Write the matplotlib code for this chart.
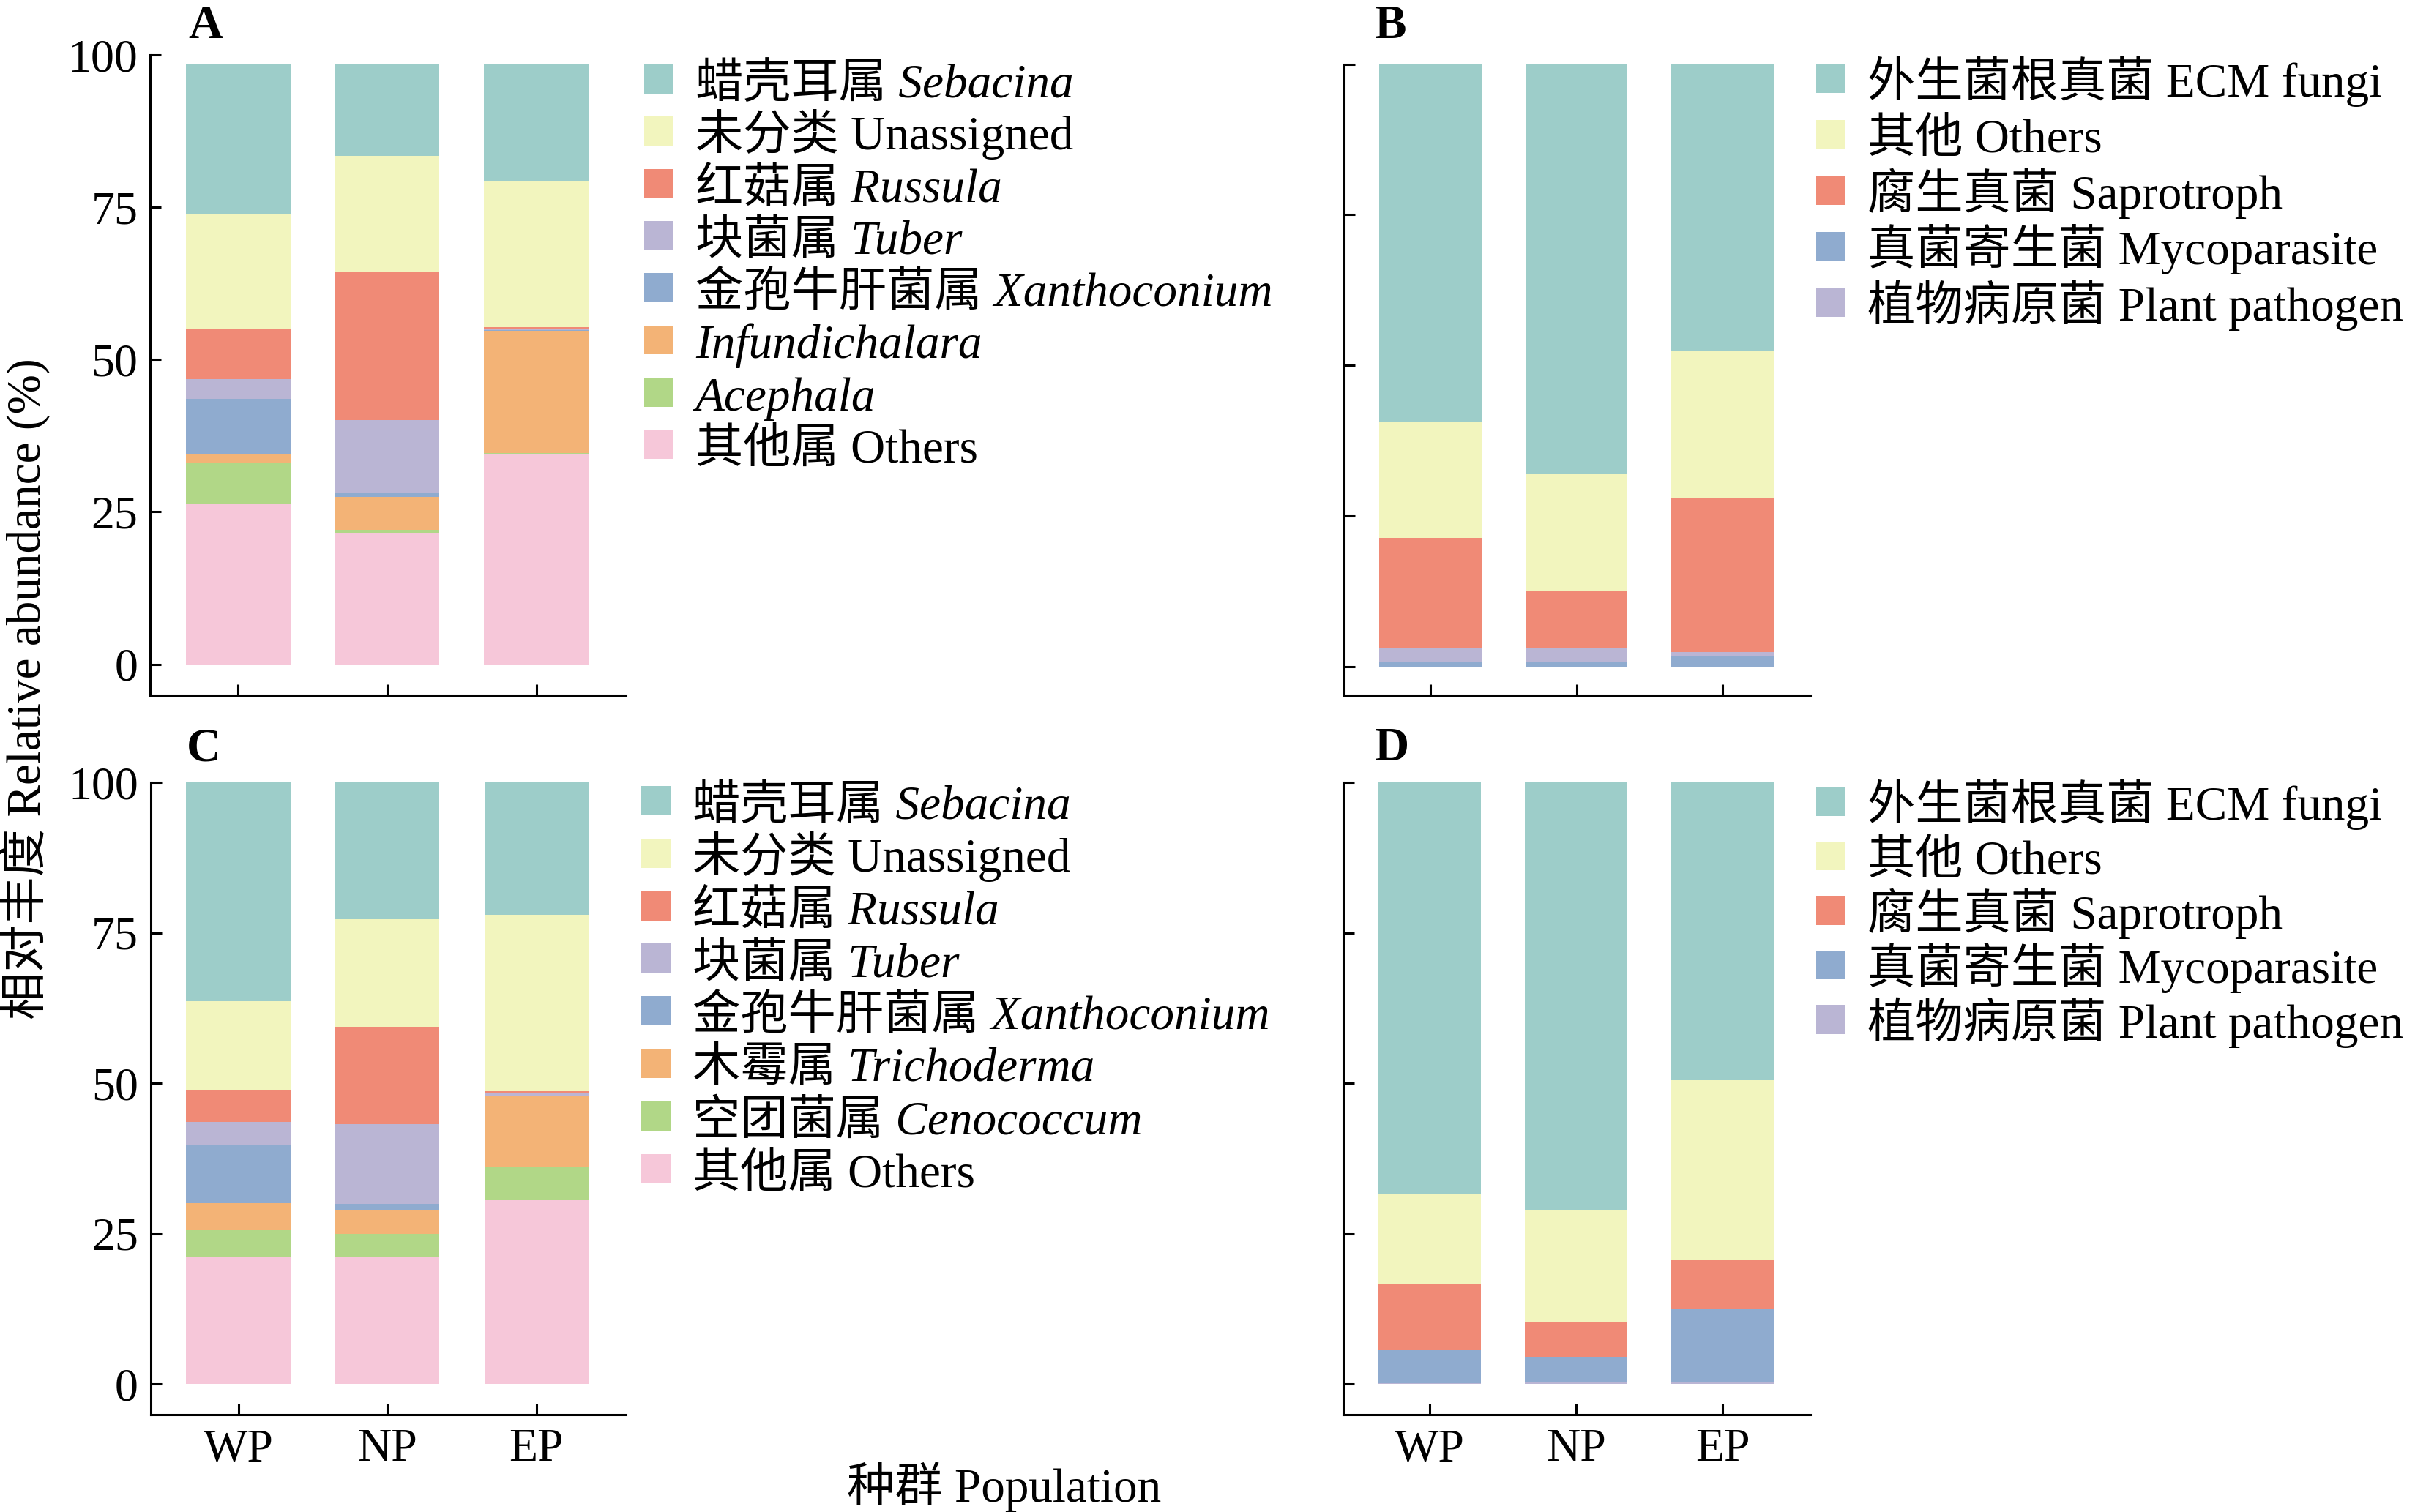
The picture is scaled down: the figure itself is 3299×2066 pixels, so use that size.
import matplotlib
matplotlib.use('Agg')
import matplotlib.pyplot as plt
from matplotlib.patches import Patch, Rectangle
from matplotlib.legend_handler import HandlerPatch
from matplotlib.font_manager import FontProperties

plt.rcParams['font.family'] = ['Liberation Serif', 'Noto Sans CJK SC']

W, H, DPI = 3299, 2066, 100

# ---------------- data ----------------
populations = ['WP', 'NP', 'EP']

# Panel A (genus level, set 1) – values in %, order WP, NP, EP
A_sebacina = [24.6, 15.1, 19.1]
A_unassigned = [19.0, 19.1, 24.1]
A_russula = [8.1, 24.2, 0.25]
A_tuber = [3.2, 12.1, 0.15]
A_xanthoconium = [9.1, 0.5, 0.12]
A_infundichalara = [1.5, 5.45, 20.1]
A_acephala = [6.75, 0.45, 0.15]
A_others = [26.25, 21.6, 34.5]
A_labels = ['蜡壳耳属 Sebacina', '未分类 Unassigned', '红菇属 Russula', '块菌属 Tuber',
            '金孢牛肝菌属 Xanthoconium', 'Infundichalara', 'Acephala', '其他属 Others']
A_italic = [True, False, True, True, True, True, True, False]

# Panel C (genus level, set 2)
C_sebacina = [36.4, 22.8, 21.9]
C_unassigned = [14.8, 17.8, 29.4]
C_russula = [5.3, 16.2, 0.36]
C_tuber = [3.8, 13.3, 0.33]
C_xanthoconium = [9.6, 1.1, 0.1]
C_trichoderma = [4.5, 3.9, 11.75]
C_cenococcum = [4.6, 3.7, 5.5]
C_others = [21.0, 21.2, 30.6]
C_labels = ['蜡壳耳属 Sebacina', '未分类 Unassigned', '红菇属 Russula', '块菌属 Tuber',
            '金孢牛肝菌属 Xanthoconium', '木霉属 Trichoderma', '空团菌属 Cenococcum', '其他属 Others']
C_italic = [True, False, True, True, True, True, True, False]

# Panel B (trophic guilds, set 1)
B_ecm = [59.4, 68.0, 47.5]
B_others = [19.2, 19.4, 24.5]
B_saprotroph = [18.45, 9.5, 25.6]
B_mycoparasite = [0.73, 0.85, 1.6]
B_pathogen = [2.2, 2.2, 0.75]

# Panel D (trophic guilds, set 2)
D_ecm = [68.3, 71.2, 49.5]
D_others = [15.0, 18.6, 29.8]
D_saprotroph = [10.9, 5.65, 8.25]
D_mycoparasite = [5.6, 4.25, 12.15]
D_pathogen = [0.15, 0.3, 0.3]

guild_labels = ['外生菌根真菌 ECM fungi', '其他 Others', '腐生真菌 Saprotroph',
                '真菌寄生菌 Mycoparasite', '植物病原菌 Plant pathogen']

yticks = [0, 25, 50, 75, 100]

# ---------------- style ----------------
TEAL, YELLOW, RED, PURPLE = '#9DCDC9', '#F2F5BE', '#F08A76', '#BAB5D4'
BLUE, ORANGE, GREEN, PINK = '#8FABCF', '#F3B376', '#B1D787', '#F6C7D9'
genus_colors = [TEAL, YELLOW, RED, PURPLE, BLUE, ORANGE, GREEN, PINK]
guild_colors = [TEAL, YELLOW, RED, BLUE, PURPLE]

FS = 47        # general text size (pt)
TICK_FS = 46
LW = 2.2

fig = plt.figure(figsize=(W / DPI, H / DPI), dpi=DPI)


def make_ax(left, top, right, bottom, ymin, xlabels):
    ax = fig.add_axes([left / W, 1 - bottom / H, (right - left) / W, (bottom - top) / H])
    ax.set_xlim(-0.59, 2.6)
    ax.set_ylim(ymin, 100)
    for s in ['top', 'right']:
        ax.spines[s].set_visible(False)
    for s in ['left', 'bottom']:
        ax.spines[s].set_linewidth(LW)
    ax.set_yticks(yticks)
    ax.set_xticks(range(len(populations)))
    ax.tick_params(direction='in', length=11, width=LW, labelsize=TICK_FS)
    ax.tick_params(axis='y', pad=12)
    ax.tick_params(axis='x', pad=14)
    if xlabels:
        ax.set_xticklabels(populations)
    else:
        ax.set_xticklabels([])
    return ax


def stack(ax, series, colors):
    bottom = [0.0] * len(populations)
    for vals, c in zip(series, colors):
        ax.bar(range(len(populations)), vals, width=0.7, bottom=bottom, color=c, linewidth=0)
        bottom = [b + v for b, v in zip(bottom, vals)]


def square(legend, orig_handle, xdescent, ydescent, width, height, fontsize):
    s = 0.61 * fontsize
    return Rectangle((-xdescent, (0.38 - 0.305) * fontsize), s, s)


HH = 1.5
f_px = FS * DPI / 72.0
row_h = (HH - 0.35 * (HH - 0.7)) * f_px  # handle box height in px
asc = (0.3 * HH + 0.49) * f_px            # handle box ascent in px


def add_legend(ax, labels, colors, italics, left_px, first_center_px, spacing_px):
    handles = [Patch(facecolor=c, edgecolor='none') for c in colors]
    ls = (spacing_px - row_h) / f_px
    top_px = first_center_px - (asc - 0.38 * f_px)
    leg = ax.legend(handles, labels, loc='upper left',
                    bbox_to_anchor=(left_px / W, 1 - top_px / H),
                    bbox_transform=fig.transFigure, frameon=False,
                    borderpad=0, borderaxespad=0, handlelength=0.61,
                    handleheight=HH, handletextpad=0.46, labelspacing=ls,
                    prop=FontProperties(family=['Liberation Serif', 'Noto Sans CJK SC'], size=FS),
                    handler_map={Patch: HandlerPatch(patch_func=square)})
    for t, it in zip(leg.get_texts(), italics):
        if it:
            t.set_fontstyle('italic')
    return leg


# Panel A
axA = make_ax(205, 75, 855, 950, -5.1, False)
stack(axA, [A_others, A_acephala, A_infundichalara, A_xanthoconium, A_tuber,
            A_russula, A_unassigned, A_sebacina], genus_colors[::-1])
add_legend(axA, A_labels, genus_colors, A_italic, 880, 108, 71.3)

# Panel B
axB = make_ax(1836, 87.6, 2473, 950, -4.8, False)
axB.set_yticklabels([])
stack(axB, [B_mycoparasite, B_pathogen, B_saprotroph, B_others, B_ecm],
      [BLUE, PURPLE, RED, YELLOW, TEAL])
add_legend(axB, guild_labels, guild_colors, [False] * 5, 2481, 107, 76.5)

# Panel C
axC = make_ax(205.5, 1069, 855, 1933, -5.1, True)
stack(axC, [C_others, C_cenococcum, C_trichoderma, C_xanthoconium, C_tuber,
            C_russula, C_unassigned, C_sebacina], genus_colors[::-1])
add_legend(axC, C_labels, genus_colors, C_italic, 876, 1094, 71.8)

# Panel D
axD = make_ax(1835, 1069, 2473, 1933, -5.1, True)
axD.set_yticklabels([])
stack(axD, [D_pathogen, D_mycoparasite, D_saprotroph, D_others, D_ecm],
      [PURPLE, BLUE, RED, YELLOW, TEAL])
add_legend(axD, guild_labels, guild_colors, [False] * 5, 2481, 1095, 74.5)

# Panel letters
for letter, (px, py) in {'A': (257, 52), 'B': (1878, 52), 'C': (255, 1039), 'D': (1878, 1039)}.items():
    fig.text(px / W, 1 - py / H, letter, fontsize=FS, fontweight='bold',
             ha='left', va='baseline')

# Shared axis titles
fig.text(34 / W, 1 - 941 / H, '相对丰度 Relative abundance (%)', rotation=90,
         ha='center', va='center', fontsize=FS)
fig.text(1372 / W, 1 - 2032 / H, '种群 Population', ha='center', va='center', fontsize=FS)

fig.savefig('out.png', dpi=DPI)
